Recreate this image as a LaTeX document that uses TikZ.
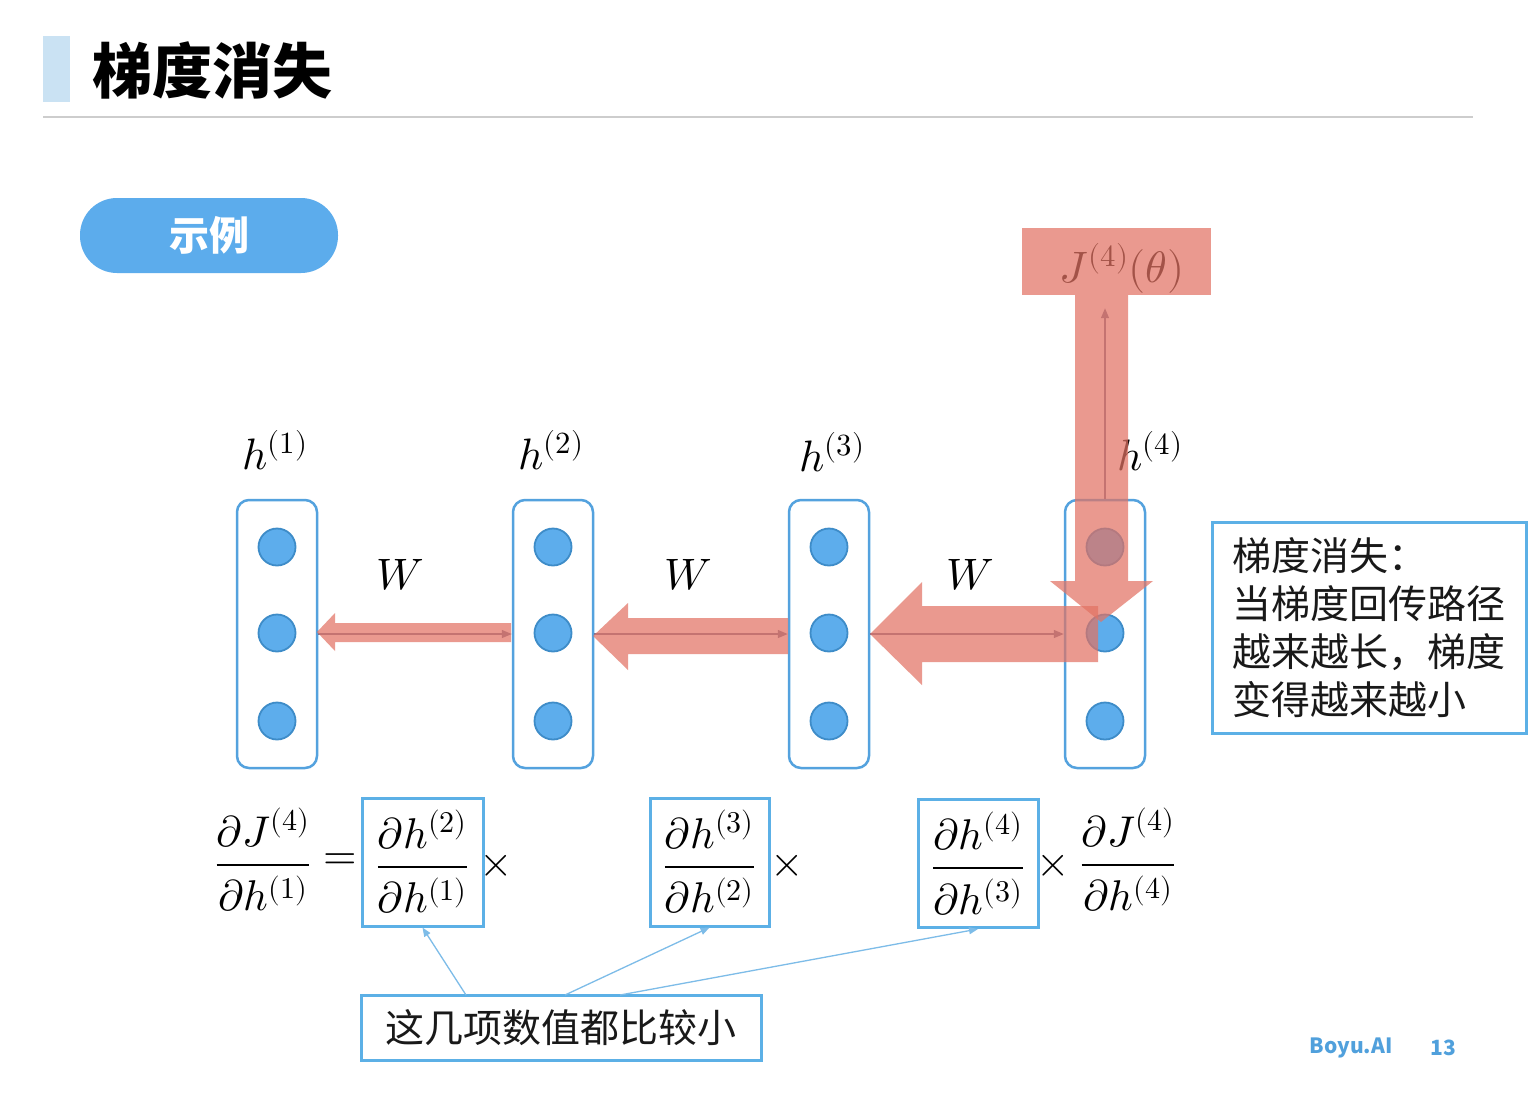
\documentclass[tikz,border=0pt]{standalone}
\usepackage{amsmath}
\usepackage{fontspec}
\usepackage{unicode-math}
\setmathfont{Latin Modern Math}
\usetikzlibrary{arrows.meta}
\newfontfamily\cjk{Noto Sans CJK SC}
\newcommand\numst{\rule[-10pt]{0pt}{10pt}}
\newcommand\denst{\rule{0pt}{40pt}}
\newcommand\pfrac[2]{\dfrac{#1\numst}{\denst #2}}
\definecolor{boxblue}{RGB}{84,162,222}
\definecolor{unitblue}{RGB}{93,173,236}
\definecolor{unitedge}{RGB}{62,140,200}
\definecolor{eqblue}{RGB}{92,176,230}
\definecolor{linkblue}{RGB}{125,188,232}
\definecolor{fwdgray}{RGB}{120,115,150}
\definecolor{gradred}{RGB}{226,115,100}
\definecolor{titlebar}{RGB}{202,226,243}
\definecolor{pill}{RGB}{92,172,236}
\definecolor{footblue}{RGB}{80,160,220}
\definecolor{rule}{RGB}{205,205,205}
\definecolor{textdark}{RGB}{25,25,25}
\tikzset{
  hbox/.style={draw=boxblue, line width=2.5pt, rounded corners=12pt, minimum width=80pt, minimum height=268pt, inner sep=0pt},
  unit/.style={circle, fill=unitblue, draw=unitedge, line width=1.8pt, minimum size=37pt, inner sep=0pt},
  mlabel/.style={font=\fontsize{44}{50}\selectfont, inner sep=0pt},
  eqtext/.style={font=\fontsize{43}{48}\selectfont, inner sep=0pt},
  eqbox/.style={draw=eqblue, line width=3pt, inner sep=0pt, minimum height=128pt},
  fwd/.style={-{Triangle[length=10pt,width=8pt]}, draw=fwdgray, line width=1.3pt},
  grad/.style={fill=gradred, fill opacity=0.72},
  link/.style={-{Triangle[length=9pt,width=7pt]}, draw=linkblue, line width=1.3pt},
  cjktext/.style={font=\cjk\fontsize{39}{48}\selectfont, text=textdark}
}
\begin{document}
\begin{tikzpicture}[x=1pt,y=-1pt]
\path[use as bounding box, fill=white] (0,0) rectangle (1538,1096);
% title
\fill[titlebar] (43,36) rectangle (70,102);
\node[font=\cjk\bfseries\fontsize{60}{66}\selectfont, anchor=west, inner sep=0pt] (title) at (92,70) {梯度消失};
\draw[rule, line width=2pt] (43,117) -- (1473,117);
% pill
\node[fill=pill, rounded corners=37pt, minimum width=258pt, minimum height=75pt, inner sep=0pt,
      font=\cjk\bfseries\fontsize{40}{44}\selectfont, text=white] (ex) at (209,235.5) {示例};
% layer boxes and units
\foreach \i/\x in {1/277,2/553,3/829,4/1105}{
  \node[hbox] (b\i) at (\x,634) {};
  \node[unit] (u\i a) at (\x,547) {};
  \node[unit] (u\i b) at (\x,633) {};
  \node[unit] (u\i c) at (\x,721) {};
}
% labels
\node[mlabel] (h1) at (275,450) {$h^{(1)}$};
\node[mlabel] (h2) at (551,450) {$h^{(2)}$};
\node[mlabel] (h3) at (832,452) {$h^{(3)}$};
\node[mlabel] (h4) at (1150,451) {$h^{(4)}$};
\node[mlabel] (w1) at (400,575) {$W$};
\node[mlabel] (w2) at (688,575) {$W$};
\node[mlabel] (w3) at (970,575) {$W$};
% J box
\node[minimum width=189pt, minimum height=67pt, inner sep=0pt] (jbox) at (1116.5,261.5) {};
\node[mlabel] (jt) at (1122,268) {$J^{(4)}(\theta)$};
% forward thin arrows
\draw[fwd] (b1.east) -- (b2.west);
\draw[fwd] (b2.east) -- (b3.west);
\draw[fwd] (b3.east) -- (b4.west);
\draw[fwd, shorten >=13pt] (b4.north) -- (b4.north |- jbox.south);
% gradient (red) overlays
\fill[grad] (jbox.north west) rectangle (jbox.south east);
\fill[grad] (1075,295) -- (1075,581) -- (1050,581) -- (1101,622) -- (1153,581) -- (1128,581) -- (1128,295) -- cycle;
\fill[grad] (870,634) -- (922,582) -- (922,606) -- (1098,606) -- (1098,662) -- (922,662) -- (922,685) -- cycle;
\fill[grad] (593,636) -- (628,603) -- (628,618) -- (788,618) -- (788,654) -- (628,654) -- (628,670) -- cycle;
\fill[grad] (317,632) -- (335,613) -- (335,623) -- (511,623) -- (511,642) -- (335,642) -- (335,651) -- cycle;
% equation
\node[eqtext] (lhs) at (263,860) {$\pfrac{\partial J^{(4)}}{\partial h^{(1)}}$};
\node[eqtext] (eqs) at (340,862) {$=$};
\node[eqtext, eqbox, minimum width=121pt] (e1) at (422.5,862) {$\pfrac{\partial h^{(2)}}{\partial h^{(1)}}$};
\node[eqtext] (x1) at (496,866) {$\times$};
\node[eqtext, eqbox, minimum width=119pt] (e2) at (709.5,862) {$\pfrac{\partial h^{(3)}}{\partial h^{(2)}}$};
\node[eqtext] (x2) at (787,866) {$\times$};
\node[eqtext, eqbox, minimum width=120pt] (e3) at (978,863.5) {$\pfrac{\partial h^{(4)}}{\partial h^{(3)}}$};
\node[eqtext] (x3) at (1053,866) {$\times$};
\node[eqtext] (rhs) at (1128,860) {$\pfrac{\partial J^{(4)}}{\partial h^{(4)}}$};
% note box at bottom
\node[cjktext, draw=eqblue, line width=3pt, minimum width=400pt, minimum height=65pt, inner sep=0pt] (small) at (561,1027.5) {这几项数值都比较小};
\coordinate (c1) at (466,995);
\coordinate (c2) at (565,995);
\coordinate (c3) at (620,995);
\draw[link] (c1) -- (e1.south);
\draw[link] (c2) -- (e2.south);
\draw[link] (c3) -- (e3.south);
% right note
\node[cjktext, draw=eqblue, line width=3pt, minimum width=314pt, minimum height=211pt, align=left, inner sep=0pt] (note) at (1369,627.5)
  {梯度消失：\\当梯度回传路径\\越来越长，梯度\\变得越来越小};
% footer
\node[font=\cjk\bfseries\fontsize{21}{24}\selectfont, text=footblue, inner sep=0pt] (boyu) at (1351,1048) {Boyu.AI};
\node[font=\cjk\bfseries\fontsize{21}{24}\selectfont, text=footblue, inner sep=0pt] (page) at (1443,1048) {13};
\end{tikzpicture}
\end{document}
